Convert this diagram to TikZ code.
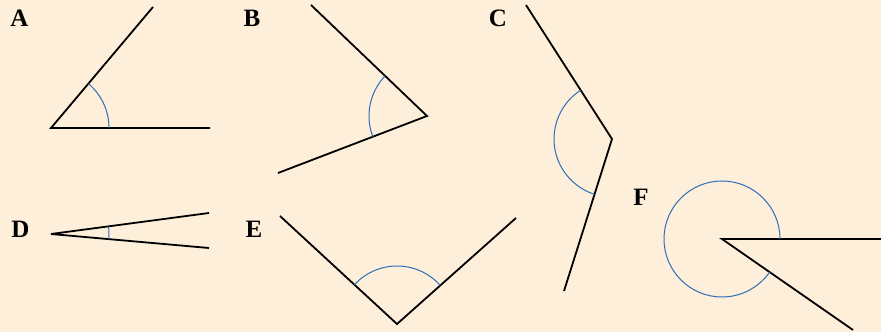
\documentclass[tikz,border=0pt]{standalone}
\usepackage{fontspec}
\newfontfamily\labfont{Liberation Serif}
\usepackage{xcolor}
\usepackage{tikz}
\usetikzlibrary{angles}
\definecolor{angpaper}{HTML}{FDEFD9}
\definecolor{angblue}{HTML}{2F6DB8}

\begin{document}
\begin{tikzpicture}[x=1pt,y=1pt,
  ray/.style={draw=black,line width=1.8pt,line join=miter},
  arcmark/.style={draw=angblue,line width=1pt,angle radius=58pt},
  lab/.style={anchor=base,inner sep=0pt,font=\labfont\fontsize{25}{25}\selectfont\bfseries}
]
\fill[angpaper] (0,0) rectangle (881,332);
\useasboundingbox (0,0) rectangle (881,332);
% A
\coordinate (oA) at (51,204);
\coordinate (hA) at (210,204);
\coordinate (tA) at (153,325);
\draw[ray] (tA) -- (oA) -- (hA);
\pic[arcmark] {angle=hA--oA--tA};
\node[lab] (labA) at (19.5,305) {A};
% B
\coordinate (oB) at (427,216);
\coordinate (tB) at (311,327);
\coordinate (bB) at (278,159);
\draw[ray] (tB) -- (oB) -- (bB);
\pic[arcmark] {angle=tB--oB--bB};
\node[lab] (labB) at (252,305) {B};
% C
\coordinate (oC) at (612,193);
\coordinate (tC) at (526,327);
\coordinate (bC) at (564,41);
\draw[ray] (tC) -- (oC) -- (bC);
\pic[arcmark] {angle=tC--oC--bC};
\node[lab] (labC) at (498,305) {C};
% D
\coordinate (oD) at (51,98);
\coordinate (tD) at (209,119);
\coordinate (bD) at (209,84);
\draw[ray,line join=bevel] (tD) -- (oD) -- (bD);
\pic[arcmark] {angle=bD--oD--tD};
\node[lab] (labD) at (20.5,94) {D};
% E
\coordinate (oE) at (397,8);
\coordinate (lE) at (280,116);
\coordinate (rE) at (516,114);
\draw[ray] (lE) -- (oE) -- (rE);
\pic[arcmark] {angle=rE--oE--lE};
\node[lab] (labE) at (254,94) {E};
% F
\coordinate (oF) at (722,93);
\coordinate (hF) at (881,93);
\coordinate (bF) at (853,2);
\draw[ray] (hF) -- (oF) -- (bF);
\pic[arcmark] {angle=hF--oF--bF};
\node[lab] (labF) at (641,126) {F};
\end{tikzpicture}
\end{document}
